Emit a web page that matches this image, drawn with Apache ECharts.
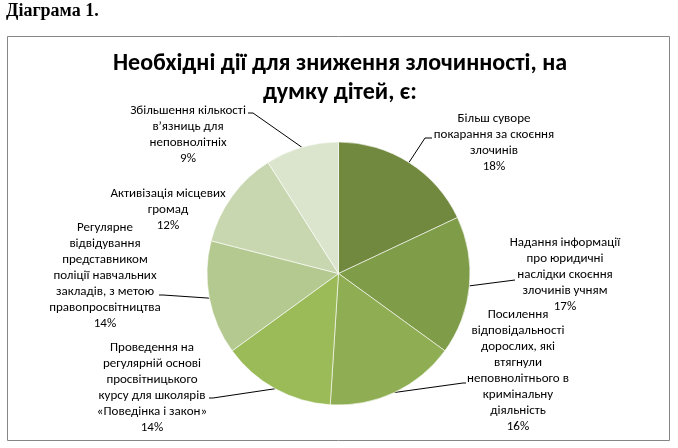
<!DOCTYPE html>
<html>
<head>
<meta charset="utf-8">
<script src="https://cdn.jsdelivr.net/npm/echarts@6/dist/echarts.min.js"></script>
<style>
  html, body { margin: 0; padding: 0; background: #fff; }
  #chart { width: 678px; height: 448px; }
</style>
</head>
<body>
<div id="chart"></div>
<script>
// data
var categories = [
    'Більш суворе\nпокарання за скоєння\nзлочинів',
    'Надання інформації\nпро юридичні\nнаслідки скоєння\nзлочинів учням',
    'Посилення\nвідповідальності\nдорослих, які\nвтягнули\nнеповнолітнього в\nкримінальну\nдіяльність',
    'Проведення на\nрегулярній основі\nпросвітницького\nкурсу для школярів\n«Поведінка і закон»',
    'Регулярне\nвідвідування\nпредставником\nполіції навчальних\nзакладів, з метою\nправопросвітництва',
    'Активізація місцевих\nгромад',
    'Збільшення кількості\nв’язниць для\nнеповнолітніх'
];
var values = [18, 17, 16, 14, 14, 12, 9];
var colors = ['#71893f', '#7f9c48', '#8fad52', '#9bbb59', '#b4c98f', '#c8d7b0', '#dbe5cd'];

// label placement (centre of text block) and end of the leader line
var labelPos = [
    { x: 494, y: 143, line: [[425, 138], [432, 138]] },
    { x: 565, y: 275, line: [[515, 280], [515, 280]] },
    { x: 518, y: 371, line: [[463, 383], [466, 383]] },
    { x: 152, y: 388, line: [[213, 398], [209, 398]] },
    { x: 105, y: 276, line: [[163, 295], [159, 295]] },
    { x: 168, y: 210, line: null },
    { x: 188, y: 135, line: [[253, 113], [248, 113]] }
];

var chart = echarts.init(document.getElementById('chart'));

var data = [];
for (var i = 0; i < values.length; i++) {
    data.push({ name: categories[i], value: values[i], itemStyle: { color: colors[i] } });
}

chart.setOption({
    animation: false,
    title: {
        text: 'Необхідні дії для зниження злочинності, на\nдумку дітей, є:',
        left: 340,
        top: 49,
        padding: 0,
        textAlign: 'center',
        textStyle: {
            fontFamily: 'Carlito, "Liberation Sans", sans-serif',
            fontSize: 24,
            fontWeight: 'bold',
            color: '#000',
            lineHeight: 29
        }
    },
    graphic: [
        {
            type: 'text',
            left: 6,
            top: 2,
            style: {
                text: 'Діаграма 1.',
                font: 'bold 18px "Liberation Serif", serif',
                fill: '#000'
            }
        },
        {
            type: 'rect',
            shape: { x: 7.5, y: 36.5, width: 662, height: 404 },
            style: { fill: 'none', stroke: '#868686', lineWidth: 1 },
            z: -1
        }
    ],
    series: [
        {
            type: 'pie',
            center: [338.5, 273.5],
            radius: 131.5,
            startAngle: 90,
            clockwise: true,
            data: data,
            itemStyle: { borderColor: '#fff', borderWidth: 0.6 },
            label: {
                show: true,
                formatter: function (p) {
                    return p.name + '\n' + p.value + '%';
                },
                fontFamily: 'Carlito, "Liberation Sans", sans-serif',
                fontSize: 13,
                lineHeight: 16,
                color: '#000',
                align: 'center'
            },
            labelLine: {
                show: true,
                lineStyle: { color: '#000', width: 1 }
            },
            labelLayout: function (params) {
                var pos = labelPos[params.dataIndex];
                var pts = params.labelLinePoints;
                var res = { x: pos.x, y: pos.y, align: 'center', verticalAlign: 'middle' };
                if (pos.line && pts) {
                    res.labelLinePoints = [pts[0], pos.line[0], pos.line[1]];
                } else {
                    res.labelLinePoints = [[0, 0], [0, 0], [0, 0]];
                }
                return res;
            },
            emphasis: { disabled: true }
        }
    ]
});
</script>
</body>
</html>
